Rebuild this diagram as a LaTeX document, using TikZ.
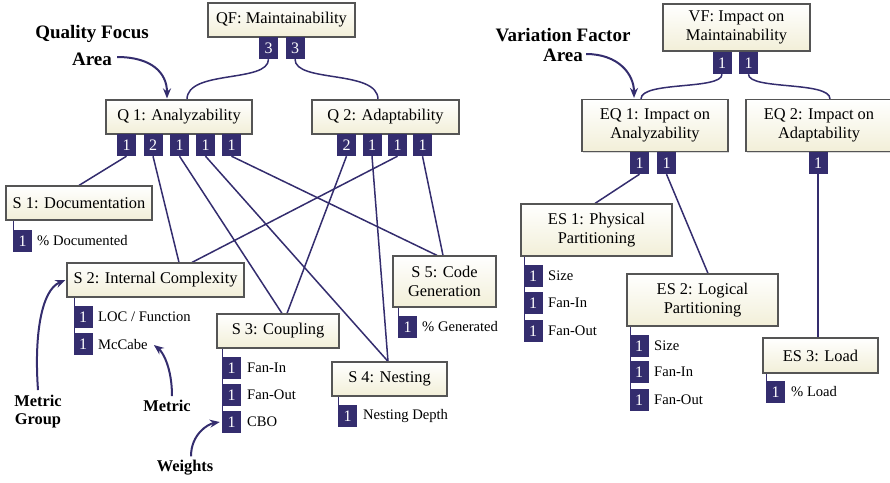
\documentclass[tikz,border=0pt]{standalone}
\usepackage{fontspec}
\setmainfont{Liberation Serif}
\usetikzlibrary{arrows.meta,calc,shadows}
\definecolor{navy}{RGB}{52,45,110}
\definecolor{boxedge}{RGB}{85,85,85}
\definecolor{cream}{RGB}{242,239,216}
\pgfdeclarelayer{background}
\pgfsetlayers{background,main}

\begin{document}
\begin{tikzpicture}[x=1pt,y=-1pt,
  box/.style={draw=boxedge, line width=1.2pt, top color=white, bottom color=cream,
    inner sep=0pt, align=center, font=\fontsize{16.4}{18.5}\selectfont,
    drop shadow={shadow xshift=1.2pt, shadow yshift=-1.2pt, opacity=0.3, fill=gray}},
  wbox/.style={fill=navy, text=white, minimum width=19pt, minimum height=22pt,
    inner sep=0pt, font=\fontsize{16}{16}\selectfont},
  lab/.style={anchor=west, inner sep=0pt, font=\fontsize{14.6}{16}\selectfont},
  link/.style={draw=navy, line width=1.5pt},
  mline/.style={draw=navy, line width=1pt},
  ann/.style={inner sep=0pt, font=\fontsize{19}{22}\selectfont\bfseries},
  annsmall/.style={inner sep=0pt, font=\fontsize{16.4}{20}\selectfont\bfseries},
  pointer/.style={draw=navy, line width=2pt, -{Stealth[length=10pt,width=8pt]}}]

\useasboundingbox (0,0) rectangle (890,482);
\clip (0,0) rectangle (890,482);

% ---------------- quality model ----------------
\node[box, minimum width=147pt, minimum height=34pt] (QF) at (281.5,20) {QF: Maintainability};
\node[box, minimum width=146pt, minimum height=34pt] (Q1) at (179,117) {Q 1: Analyzability};
\node[box, minimum width=147pt, minimum height=34pt] (Q2) at (385.5,117) {Q 2: Adaptability};
\node[box, minimum width=146pt, minimum height=34pt] (S1) at (79,203) {S 1: Documentation};
\node[box, minimum width=177pt, minimum height=34pt] (S2) at (155.5,280) {S 2: Internal Complexity};
\node[box, minimum width=122pt, minimum height=34pt] (S3) at (278,331) {S 3: Coupling};
\node[box, minimum width=115pt, minimum height=34pt] (S4) at (389.5,379) {S 4: Nesting};
\node[box, minimum width=103pt, minimum height=51pt] (S5) at (444.5,281.5) {S 5: Code\\Generation};

% weights of the factors
\node[wbox] (qfw1) at (268.5,48) {3};
\node[wbox] (qfw2) at (295,48) {3};
\node[wbox] (q1w1) at (126.5,145) {1};
\node[wbox] (q1w2) at (153,145) {2};
\node[wbox] (q1w3) at (179.5,145) {1};
\node[wbox] (q1w4) at (205.5,145) {1};
\node[wbox] (q1w5) at (231.5,145) {1};
\node[wbox] (q2w1) at (346.5,145) {2};
\node[wbox] (q2w2) at (372,145) {1};
\node[wbox] (q2w3) at (397.5,145) {1};
\node[wbox] (q2w4) at (422.5,145) {1};

% metrics with weights
\node[wbox] (m11) at (22.5,241) {1};
\node[lab] (l11) at (37,241) {\% Documented};
\node[wbox] (m21) at (83,317) {1};
\node[lab] (l21) at (98,317) {LOC / Function};
\node[wbox] (m22) at (83,344) {1};
\node[lab] (l22) at (98,344) {McCabe};
\node[wbox] (m31) at (231.5,368) {1};
\node[lab] (l31) at (247,368) {Fan-In};
\node[wbox] (m32) at (231.5,395) {1};
\node[lab] (l32) at (247,395) {Fan-Out};
\node[wbox] (m33) at (231.5,422) {1};
\node[lab] (l33) at (247,422) {CBO};
\node[wbox] (m41) at (347.5,416) {1};
\node[lab] (l41) at (363,416) {Nesting Depth};
\node[wbox] (m51) at (407.5,327) {1};
\node[lab] (l51) at (422,327) {\% Generated};

% ---------------- variation factor model ----------------
\node[box, minimum width=147pt, minimum height=47pt] (VF) at (736.5,27.5) {VF: Impact on\\Maintainability};
\node[box, minimum width=146pt, minimum height=52pt] (EQ1) at (655,125.5) {EQ 1: Impact on\\Analyzability};
\node[box, minimum width=146pt, minimum height=52pt] (EQ2) at (819,125.5) {EQ 2: Impact on\\Adaptability};
\node[box, minimum width=151pt, minimum height=52pt] (ES1) at (596.5,230) {ES 1: Physical\\Partitioning};
\node[box, minimum width=151pt, minimum height=52pt] (ES2) at (702.5,300) {ES 2: Logical\\Partitioning};
\node[box, minimum width=115pt, minimum height=35pt] (ES3) at (820.5,355.5) {ES 3: Load};

\node[wbox] (vfw1) at (722,63) {1};
\node[wbox] (vfw2) at (748.5,63) {1};
\node[wbox] (e1w1) at (639.5,163) {1};
\node[wbox] (e1w2) at (666.5,163) {1};
\node[wbox] (e2w1) at (818,163) {1};

\node[wbox] (n11) at (533,276) {1};
\node[lab] (k11) at (548,276) {Size};
\node[wbox] (n12) at (533,303) {1};
\node[lab] (k12) at (548,303) {Fan-In};
\node[wbox] (n13) at (533,331) {1};
\node[lab] (k13) at (548,331) {Fan-Out};
\node[wbox] (n21) at (639,346) {1};
\node[lab] (k21) at (654,346) {Size};
\node[wbox] (n22) at (639,372) {1};
\node[lab] (k22) at (654,372) {Fan-In};
\node[wbox] (n23) at (639,400) {1};
\node[lab] (k23) at (654,400) {Fan-Out};
\node[wbox] (n31) at (775.5,392) {1};
\node[lab] (k31) at (791,392) {\% Load};

% ---------------- connectors ----------------
\begin{pgfonlayer}{background}
  % factor to sub-factors
  \draw[link] (qfw1.south) .. controls +(0,24) and +(0,-30) .. ($(Q1.north)+(8,0)$);
  \draw[link] (qfw2.south) .. controls +(0,24) and +(0,-30) .. ($(Q2.north)+(-7.5,0)$);
  \draw[link] (vfw1.south) .. controls +(0,16) and +(0,-18) .. ($(EQ1.north)+(-14,0)$);
  \draw[link] (vfw2.south) .. controls +(0,16) and +(0,-18) .. ($(EQ2.north)+(11,0)$);
  % sub-factors to metric groups
  \draw[link] (q1w1.south) -- (S1.north);
  \draw[link] (q1w2.south) -- ($(S2.north)+(23.5,0)$);
  \draw[link] (q1w3.south) -- ($(S3.north)+(4,0)$);
  \draw[link] (q1w4.south) -- ($(S4.north)+(-1.5,0)$);
  \draw[link] (q1w5.south) -- ($(S5.north)+(-7.5,0)$);
  \draw[link] (q2w1.south) -- ($(S3.north)+(9,0)$);
  \draw[link] (q2w2.south) -- ($(S4.north)+(-1.5,0)$);
  \draw[link] (q2w3.south) -- ($(S2.north)+(36.5,0)$);
  \draw[link] (q2w4.south) -- ($(S5.north)+(-1.5,0)$);
  \draw[link] (e1w1.south) -- ($(ES1.north)+(-1.5,0)$);
  \draw[link] (e1w2.south) -- ($(ES2.north)+(5.5,0)$);
  \draw[link] (e2w1.south) -- (e2w1.south |- ES3.north);
  % metric lists
  \draw[mline] ([xshift=1pt]S1.south -| m11.west) -- ([xshift=1pt]m11.west);
  \draw[mline] ([xshift=1pt]S2.south -| m21.west) -- ([xshift=1pt]m22.west);
  \draw[mline] ([xshift=1pt]S3.south -| m31.west) -- ([xshift=1pt]m33.west);
  \draw[mline] ([xshift=1pt]S4.south -| m41.west) -- ([xshift=1pt]m41.west);
  \draw[mline] ([xshift=1pt]S5.south -| m51.west) -- ([xshift=1pt]m51.west);
  \draw[mline] ([xshift=1pt]ES1.south -| n11.west) -- ([xshift=1pt]n13.west);
  \draw[mline] ([xshift=1pt]ES2.south -| n21.west) -- ([xshift=1pt]n23.west);
  \draw[mline] ([xshift=1pt]ES3.south -| n31.west) -- ([xshift=1pt]n31.west);
\end{pgfonlayer}

% ---------------- annotations ----------------
\node[ann] (qfa1) at (92,34) {Quality Focus};
\node[ann] (qfa2) at (92,59) {Area};
\draw[pointer] ([xshift=5pt,yshift=2pt]qfa2.east) .. controls +(34,0) and +(0,-26) .. ($(Q1.north)+(-12,-1)$);

\node[ann] (vfa1) at (563,35) {Variation Factor};
\node[ann] (vfa2) at (563,55) {Area};
\draw[pointer] ([xshift=3pt,yshift=1pt]vfa2.east) .. controls +(32,0) and +(0,-24) .. ($(EQ1.north)+(-21,-1)$);

\node[annsmall] (mg1) at (38,401) {Metric};
\node[annsmall] (mg2) at (38,421) {Group};
\draw[pointer] ([yshift=5pt]mg1.north) .. controls +(-4,-55) and +(-24,10) .. ([xshift=-1pt]S2.west);

\node[annsmall] (mt) at (167,406) {Metric};
\draw[pointer] ([xshift=5pt,yshift=4pt]mt.north) .. controls +(0,-28) and +(9,7) .. ($(l22.east)+(6,1)$);

\node[annsmall] (wt) at (185,468) {Weights};
\draw[pointer] ([xshift=6pt,yshift=4pt]wt.north) .. controls +(0,-22) and +(-12,2) .. ([xshift=-2pt]m33.west);

\end{tikzpicture}
\end{document}
